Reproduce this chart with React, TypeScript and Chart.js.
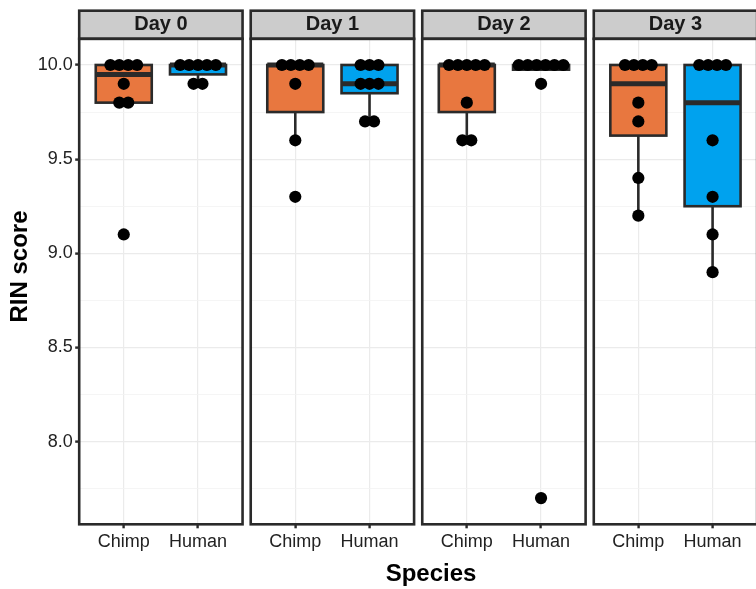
import React, { useEffect, useRef } from 'react';
import { Chart, registerables } from 'chart.js';

Chart.register(...registerables);

// ---------- data ----------
const facetLabels = ['Day 0', 'Day 1', 'Day 2', 'Day 3'];
const speciesLabels = ['Chimp', 'Human'];
const chimpRIN = [
  [10, 10, 10, 10, 9.9, 9.8, 9.8, 9.1],
  [10, 10, 10, 10, 9.9, 9.6, 9.3],
  [10, 10, 10, 10, 10, 9.8, 9.6, 9.6],
  [10, 10, 10, 10, 9.8, 9.7, 9.4, 9.2],
];
const humanRIN = [
  [10, 10, 10, 10, 10, 9.9, 9.9],
  [10, 10, 10, 9.9, 9.9, 9.9, 9.7, 9.7],
  [10, 10, 10, 10, 10, 10, 9.9, 7.7],
  [10, 10, 10, 10, 9.6, 9.3, 9.1, 8.9],
];
const yMajorTicks = [8.0, 8.5, 9.0, 9.5, 10.0];
const yMinorTicks = [7.75, 8.25, 8.75, 9.25, 9.75];
const xTitle = 'Species';
const yTitle = 'RIN score';

// ---------- style / layout ----------
const FILLS = ['#E8773F', '#00A2EE'];
const INK = '#2a2a2a';
const FONT = '"Liberation Sans", Arial, Helvetica, sans-serif';
const CAT_OFFSET = [0.6, 1.6];
const PANEL_SPAN = 2.2;
const PANEL_STEP = 2.31;
const DOT_STEP = 0.12;
const X_MAX = 9.477;
const Y_MIN = 7.561;
const Y_MAX = 10.139;
const CANVAS_W = 789;
const CANVAS_H = 589;
const STRIP_TOP = 10.7;

const catX = (panel: number, sp: number) => panel * PANEL_STEP + CAT_OFFSET[sp];

function quantile(sorted: number[], p: number) {
  const h = (sorted.length - 1) * p;
  const lo = Math.floor(h);
  const hi = Math.ceil(h);
  return sorted[lo] + (h - lo) * (sorted[hi] - sorted[lo]);
}
function boxStats(values: number[]) {
  const s = [...values].sort((a, b) => a - b);
  const q1 = quantile(s, 0.25);
  const med = quantile(s, 0.5);
  const q3 = quantile(s, 0.75);
  const iqr = q3 - q1;
  const lo = s.find((v) => v >= q1 - 1.5 * iqr) as number;
  const hi = [...s].reverse().find((v) => v <= q3 + 1.5 * iqr) as number;
  return { q1, med, q3, lo, hi };
}
const seriesBySpecies = [chimpRIN, humanRIN];
const statsBySpecies = seriesBySpecies.map((series) => series.map(boxStats));

function dotPoints(series: number[][], sp: number) {
  const pts: { x: number; y: number }[] = [];
  series.forEach((vals, panel) => {
    const counts = new Map<number, number>();
    vals.forEach((v) => counts.set(v, (counts.get(v) || 0) + 1));
    counts.forEach((n, v) => {
      for (let i = 0; i < n; i++) {
        pts.push({ x: catX(panel, sp) + (i - (n - 1) / 2) * DOT_STEP, y: v });
      }
    });
  });
  return pts;
}

const facetPlugin = {
  id: 'facetBoxes',
  beforeDatasetsDraw(chart: any) {
    const { ctx, chartArea: a, scales } = chart;
    const x = scales.x;
    ctx.save();
    ctx.fillStyle = '#fff';
    for (let p = 0; p < facetLabels.length; p++) {
      const l = x.getPixelForValue(p * PANEL_STEP + PANEL_SPAN);
      const r = p === facetLabels.length - 1 ? chart.width : x.getPixelForValue((p + 1) * PANEL_STEP);
      ctx.fillRect(l, a.top - 2, r - l, a.bottom - a.top + 4);
    }
    ctx.restore();
  },
  beforeDatasetDraw(chart: any, args: any) {
    const ds = chart.data.datasets[args.index];
    if (ds.boxSpecies === undefined) return;
    const { ctx } = chart;
    const y = chart.scales.y;
    const stats = statsBySpecies[ds.boxSpecies];
    ctx.save();
    ctx.strokeStyle = INK;
    ctx.lineWidth = 2.6;
    args.meta.data.forEach((el: any, i: number) => {
      const st = stats[i];
      const cx = el.x;
      ctx.beginPath();
      ctx.moveTo(cx, y.getPixelForValue(st.q3));
      ctx.lineTo(cx, y.getPixelForValue(st.hi));
      ctx.moveTo(cx, y.getPixelForValue(st.q1));
      ctx.lineTo(cx, y.getPixelForValue(st.lo));
      ctx.stroke();
    });
    ctx.restore();
  },
  afterDatasetDraw(chart: any, args: any) {
    const ds = chart.data.datasets[args.index];
    if (ds.boxSpecies === undefined) return;
    const { ctx } = chart;
    const y = chart.scales.y;
    const stats = statsBySpecies[ds.boxSpecies];
    ctx.save();
    ctx.strokeStyle = INK;
    args.meta.data.forEach((el: any, i: number) => {
      const { x, y: top, base, width } = el.getProps(['x', 'y', 'base', 'width'], true);
      ctx.lineWidth = 2.6;
      ctx.strokeRect(x - width / 2, Math.min(top, base), width, Math.abs(base - top));
      const my = y.getPixelForValue(stats[i].med);
      ctx.lineWidth = 5;
      ctx.beginPath();
      ctx.moveTo(x - width / 2, my);
      ctx.lineTo(x + width / 2, my);
      ctx.stroke();
    });
    ctx.restore();
  },
  afterDraw(chart: any) {
    const { ctx, chartArea: a } = chart;
    const x = chart.scales.x;
    ctx.save();
    facetLabels.forEach((label, p) => {
      const l = x.getPixelForValue(p * PANEL_STEP);
      const r = x.getPixelForValue(p * PANEL_STEP + PANEL_SPAN);
      ctx.fillStyle = '#CCCCCC';
      ctx.fillRect(l, STRIP_TOP, r - l, a.top - STRIP_TOP);
      ctx.strokeStyle = INK;
      ctx.lineWidth = 2.6;
      ctx.strokeRect(l, STRIP_TOP, r - l, a.top - STRIP_TOP);
      ctx.strokeRect(l, a.top, r - l, a.bottom - a.top);
      ctx.fillStyle = '#1a1a1a';
      ctx.font = `bold 20px ${FONT}`;
      ctx.textAlign = 'center';
      ctx.textBaseline = 'middle';
      ctx.fillText(label, (l + r) / 2, (STRIP_TOP + a.top) / 2 - 0.5);
    });
    // y-axis title, centred over strips + panels (as facet_wrap does)
    ctx.fillStyle = '#000';
    ctx.font = `bold 24px ${FONT}`;
    ctx.textAlign = 'center';
    ctx.textBaseline = 'middle';
    ctx.translate(20, (STRIP_TOP + a.bottom) / 2 - 1);
    ctx.rotate(-Math.PI / 2);
    ctx.fillText(yTitle, 0, 0);
    ctx.restore();
  },
};

function buildConfig(): any {
  const boxDatasets = speciesLabels.map((name, sp) => ({
    type: 'bar',
    label: name + ' box',
    data: statsBySpecies[sp].map((st, panel) => ({ x: catX(panel, sp), y: [st.q1, st.q3] })),
    backgroundColor: FILLS[sp],
    borderWidth: 0,
    barThickness: 56,
    grouped: false,
    order: 1,
    boxSpecies: sp,
  }));
  const dotDatasets = speciesLabels.map((name, sp) => ({
    type: 'scatter',
    label: name,
    data: dotPoints(seriesBySpecies[sp], sp),
    pointRadius: 6.1,
    pointBackgroundColor: '#000',
    pointBorderWidth: 0,
    pointHoverRadius: 6.1,
    showLine: false,
    order: 0,
  }));
  const yAllTicks = [...yMinorTicks, ...yMajorTicks].sort((a, b) => a - b);
  const isMajor = (v: number) => yMajorTicks.some((m) => Math.abs(m - v) < 1e-9);

  return {
    type: 'bar',
    data: { datasets: [...boxDatasets, ...dotDatasets] },
    plugins: [facetPlugin],
    options: {
      responsive: false,
      animation: false,
      devicePixelRatio: 1,
      events: [],
      layout: { padding: { top: 38.8, left: 0, right: 0, bottom: 0 } },
      plugins: { legend: { display: false }, tooltip: { enabled: false } },
      scales: {
        x: {
          type: 'linear',
          min: 0,
          max: X_MAX,
          offset: false,
          afterBuildTicks: (scale: any) => {
            scale.ticks = facetLabels.flatMap((_, p) => speciesLabels.map((__, sp) => ({ value: catX(p, sp) })));
          },
          afterFit: (scale: any) => {
            scale.height = 64.7;
          },
          grid: {
            offset: false,
            color: '#EBEBEB',
            lineWidth: 1.2,
            drawTicks: true,
            tickLength: 4,
            tickColor: INK,
            tickWidth: 2.4,
          },
          border: { display: false },
          ticks: {
            autoSkip: false,
            maxRotation: 0,
            minRotation: 0,
            padding: 3,
            color: '#222',
            font: { family: FONT, size: 18 },
            callback: (_v: any, i: number) => speciesLabels[i % speciesLabels.length],
          },
          title: {
            display: true,
            text: xTitle,
            color: '#000',
            font: { family: FONT, size: 24, weight: 'bold' },
            padding: { top: 0, bottom: 0 },
          },
        },
        y: {
          type: 'linear',
          min: Y_MIN,
          max: Y_MAX,
          beginAtZero: false,
          afterBuildTicks: (scale: any) => {
            scale.ticks = yAllTicks.map((v) => ({ value: v }));
          },
          afterFit: (scale: any) => {
            scale.width = 79.2;
          },
          grid: {
            color: (c: any) => (c.tick && isMajor(c.tick.value) ? '#EBEBEB' : '#F3F3F3'),
            lineWidth: (c: any) => (c.tick && isMajor(c.tick.value) ? 1.2 : 0.8),
            drawTicks: true,
            tickLength: 4,
            tickColor: (c: any) => (c.tick && isMajor(c.tick.value) ? INK : 'rgba(0,0,0,0)'),
            tickWidth: 2.4,
          },
          border: { display: false },
          ticks: {
            autoSkip: false,
            padding: 2.5,
            color: '#222',
            font: { family: FONT, size: 18 },
            callback: (v: any) => (isMajor(Number(v)) ? Number(v).toFixed(1) : ''),
          },
          title: { display: false },
        },
      },
    },
  };
}

export default function App() {
  const ref = useRef<HTMLCanvasElement>(null);
  useEffect(() => {
    if (!ref.current) return;
    const chart = new Chart(ref.current, buildConfig());
    return () => chart.destroy();
  }, []);
  return (
    <div
      style={{
        position: 'absolute',
        left: 0,
        top: 0,
        width: 756,
        height: 589,
        overflow: 'hidden',
        background: '#fff',
      }}
    >
      <canvas
        ref={ref}
        width={CANVAS_W}
        height={CANVAS_H}
        style={{ display: 'block', width: CANVAS_W, height: CANVAS_H }}
      />
    </div>
  );
}
